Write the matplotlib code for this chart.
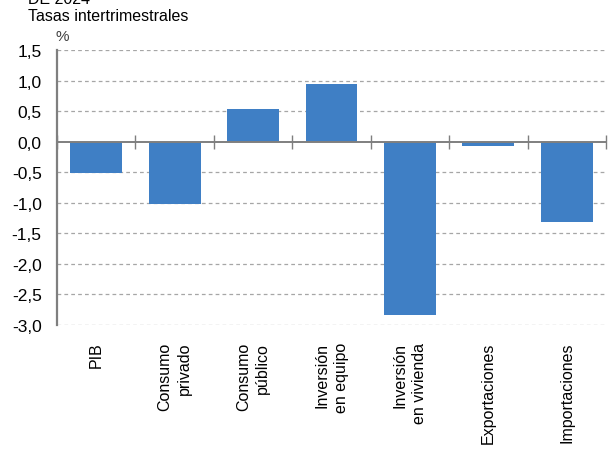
import numpy as np
import matplotlib
matplotlib.use("Agg")
import matplotlib.pyplot as plt

categories = ["PIB", "Consumo\nprivado", "Consumo\npúblico", "Inversión\nen equipo",
              "Inversión\nen vivienda", "Exportaciones", "Importaciones"]
values = [-0.51, -1.02, 0.54, 0.95, -2.83, -0.07, -1.31]
yticks = [1.5, 1.0, 0.5, 0.0, -0.5, -1.0, -1.5, -2.0, -2.5, -3.0]
ytick_labels = ["1,5", "1,0", "0,5", "0,0", "-0,5", "-1,0", "-1,5", "-2,0", "-2,5", "-3,0"]


def main():
    plt.rcParams['font.family'] = ['Liberation Sans', 'DejaVu Sans']
    grey = "#7f7f7f"
    bar_color = "#3f7fc5"

    fig = plt.figure(figsize=(6.08, 4.52), dpi=100)
    ax = fig.add_axes([57 / 608, 1 - 326 / 452, 549 / 608, 275 / 452])

    x = np.arange(len(categories))
    ax.bar(x, values, width=0.66, color=bar_color, zorder=3)

    ymin, ymax = -3.0, 1.5
    ax.set_ylim(ymin, ymax)
    ax.set_xlim(-0.5, len(categories) - 0.5)

    # dashed grid
    for t in yticks:
        if t != 0:
            ax.axhline(t, color="#a6a6a6", lw=0.9, ls=(0, (3, 2.5)), zorder=1)
    ax.axhline(0, color=grey, lw=1.4, zorder=4)

    ax.set_yticks(yticks)
    ax.set_yticklabels(ytick_labels, fontsize=12.5)
    ax.tick_params(axis="y", length=0, pad=11)

    ax.set_xticks(x)
    ax.set_xticklabels(categories, rotation=90, fontsize=11.5, va="top", ha="center",
                       multialignment="right", linespacing=1.35)
    ax.tick_params(axis="x", length=0, pad=12)

    for s in ["top", "right", "bottom"]:
        ax.spines[s].set_visible(False)
    ax.spines["left"].set_color(grey)
    ax.spines["left"].set_linewidth(1.6)
    ax.spines["left"].set_zorder(5)

    # category separators on the zero axis
    sec = ax.secondary_xaxis((0 - ymin) / (ymax - ymin))
    sec.set_xticks(np.arange(len(categories) + 1) - 0.5)
    sec.set_xticklabels([])
    sec.tick_params(axis="x", direction="inout", length=10, width=1, color=grey)
    for s in sec.spines.values():
        s.set_visible(False)

    fig.text(28 / 608, 1 - 4 / 452, "DE 2024", fontsize=11.5, va="baseline", ha="left")
    fig.text(28 / 608, 1 - 21 / 452, "Tasas intertrimestrales", fontsize=11.5, va="baseline", ha="left")
    fig.text(55 / 608, 1 - 41 / 452, "%", fontsize=11, va="baseline", ha="left", color="#404040")

    fig.savefig("out.png", dpi=100)


if __name__ == "__main__":
    main()
